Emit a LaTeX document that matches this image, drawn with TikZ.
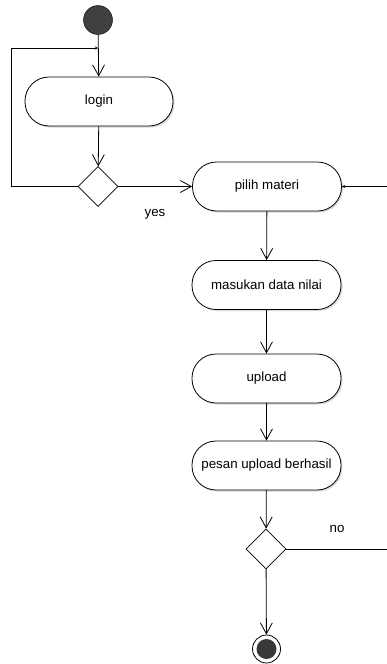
\documentclass[tikz,border=0pt]{standalone}
\usepackage{fontspec}
\setmainfont{Liberation Sans}
\usetikzlibrary{arrows.meta,shapes.geometric,shadows}
\begin{document}
\begin{tikzpicture}[x=1pt,y=-1pt,
  lbl/.style={font=\fontsize{13.3}{15}\selectfont},
  act/.style={draw=black, line width=0.8pt, fill=white, rounded corners=24pt,
    minimum width=149pt, minimum height=49pt, inner sep=0pt, lbl,
    drop shadow={shadow xshift=1.5pt, shadow yshift=-1.5pt, fill=black!30, opacity=0.5}},
  dec/.style={draw=black, line width=0.8pt, fill=white, diamond, aspect=1,
    minimum width=40pt, minimum height=40pt, inner sep=0pt},
  flow/.style={draw=black, line width=0.8pt, -{Straight Barb[length=11pt,width=12pt,line width=0.8pt]}},
  back/.style={draw=black, line width=0.8pt, -{Stealth[length=3pt,width=3pt]}},
  plain/.style={draw=black, line width=0.8pt}]
\useasboundingbox[fill=white] (0,0) rectangle (387,664);

\node[circle, draw=black, fill=black!75, minimum size=29pt, inner sep=0pt] (start) at (98,20) {};
\node[act, minimum width=148pt] (login) at (99,101.5) {login};
\node[dec] (d1) at (98,186.5) {};
\node[act] (pilih) at (267,186.5) {pilih materi};
\node[act] (masuk) at (266.5,285) {masukan data nilai};
\node[act] (upload) at (266.5,378.5) {upload};
\node[act] (pesan) at (266.5,465.5) {pesan upload berhasil};
\node[dec] (d2) at (266,549) {};
\node[circle, draw=black, line width=0.8pt, fill=white, minimum size=28pt, inner sep=0pt] (endo) at (266.5,649) {};
\node[circle, fill=black!78, minimum size=20pt, inner sep=0pt] (endi) at (endo) {};

\coordinate (loopin) at (98,48);
\coordinate (la) at (11,186.5);
\coordinate (lb) at (11,48);
\coordinate (ra) at (388,549);
\coordinate (rb) at (388,186.5);

\draw[flow] (start) -- (login);
\draw[flow] (login) -- (d1);
\draw[back] (d1.west) -- (la) -- (lb) -- (loopin);
\draw[flow] (d1.east) -- (pilih.west);
\draw[flow] (pilih) -- (masuk);
\draw[flow] (masuk) -- (upload);
\draw[flow] (upload) -- (pesan);
\draw[flow] (pesan) -- (d2);
\draw[flow] (d2) -- (endo);
\draw[back] (d2.east) -- (ra) -- (rb) -- (pilih.east);

\node[lbl] (yes) at (155,214) {yes};
\node[lbl] (no) at (337,529) {no};
\end{tikzpicture}
\end{document}
